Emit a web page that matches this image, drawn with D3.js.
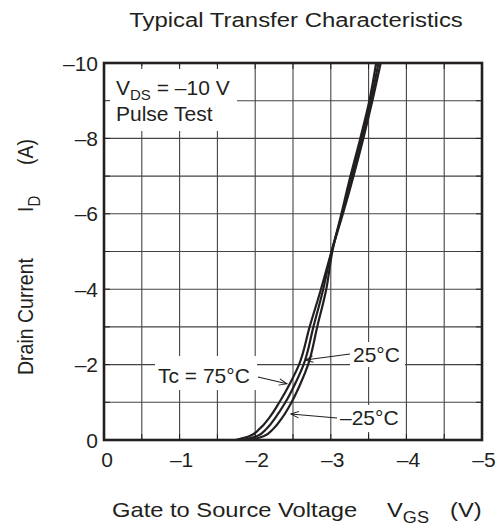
<!DOCTYPE html>
<html>
<head>
<meta charset="utf-8">
<script src="https://cdn.jsdelivr.net/npm/d3@7"></script>
<style>
  body { margin: 0; background: #fff; }
  svg text { font-family: "Liberation Sans", Arial, sans-serif; fill: #231f20; }
</style>
</head>
<body>
<div id="chart"></div>
<script>
//Data
var currentA = [0, -0.1, -0.3, -0.6, -1, -1.5, -2, -3, -4, -5, -6, -7, -8, -9, -10];
var vgs75 = [-1.74, -1.92, -2.06, -2.19, -2.32, -2.46, -2.58, -2.72, -2.87, -3.01, -3.16, -3.30, -3.43, -3.55, -3.66];
var vgs25 = [-1.84, -2.02, -2.15, -2.27, -2.40, -2.53, -2.64, -2.77, -2.90, -3.01, -3.15, -3.28, -3.41, -3.53, -3.63];
var vgsM25 = [-1.94, -2.11, -2.24, -2.36, -2.48, -2.60, -2.70, -2.82, -2.94, -3.02, -3.14, -3.26, -3.39, -3.51, -3.60];
var xTicks = [0, -1, -2, -3, -4, -5];
var yTicks = [0, -2, -4, -6, -8, -10];
var xGrid = d3.range(0, -5.01, -0.5);
var yGrid = d3.range(0, -10.01, -1);

//Global Variable
var margin = { top: 63, right: 22, bottom: 86, left: 104 },
    width = 504 - margin.left - margin.right,
    height = 526 - margin.top - margin.bottom;
var ink = "#231f20";

var svg = d3.select("#chart").append("svg")
    .attr("width", 504)
    .attr("height", 526);

var defs = svg.append("defs");
defs.append("marker")
    .attr("id", "arrow")
    .attr("viewBox", "0 0 10 10")
    .attr("refX", 10).attr("refY", 5)
    .attr("markerWidth", 10).attr("markerHeight", 8)
    .attr("markerUnits", "userSpaceOnUse")
    .attr("orient", "auto")
    .append("path")
    .attr("d", "M0,1 L10,5 L0,9")
    .attr("fill", "none")
    .attr("stroke", ink)
    .attr("stroke-width", 1.2);

var g = svg.append("g")
    .attr("transform", "translate(" + margin.left + "," + margin.top + ")");

var x = d3.scaleLinear().domain([0, -5]).range([0, width]);
var y = d3.scaleLinear().domain([0, -10]).range([height, 0]);

//Grid
g.selectAll(".vgrid").data(xGrid).enter().append("line")
    .attr("x1", function (d) { return x(d); }).attr("x2", function (d) { return x(d); })
    .attr("y1", 0).attr("y2", height)
    .attr("stroke", "#444").attr("stroke-width", 1.1);
g.selectAll(".hgrid").data(yGrid).enter().append("line")
    .attr("x1", 0).attr("x2", width)
    .attr("y1", function (d) { return y(d); }).attr("y2", function (d) { return y(d); })
    .attr("stroke", "#444").attr("stroke-width", 1.1);

//Curves
var line = d3.line()
    .x(function (d) { return x(d[0]); })
    .y(function (d) { return y(d[1]); })
    .curve(d3.curveMonotoneY);

[vgs75, vgs25, vgsM25].forEach(function (s) {
    g.append("path")
        .datum(s.map(function (v, i) { return [v, currentA[i]]; }))
        .attr("fill", "none")
        .attr("stroke", ink)
        .attr("stroke-width", 2.2)
        .attr("d", line);
});

//Label boxes
function whiteBox(x0, y0, w, h) {
    g.append("rect").attr("x", x0).attr("y", y0).attr("width", w).attr("height", h).attr("fill", "#fff");
}
whiteBox(1, 3, 132, 65);
whiteBox(51, 293, 102, 34);
whiteBox(246, 279, 55, 25);
whiteBox(234, 342, 67, 27);

//Inner ticks on frame
xGrid.forEach(function (d) {
    g.append("line").attr("x1", x(d)).attr("x2", x(d)).attr("y1", 0).attr("y2", 6).attr("stroke", ink);
    g.append("line").attr("x1", x(d)).attr("x2", x(d)).attr("y1", height).attr("y2", height - 6).attr("stroke", ink);
});
yGrid.forEach(function (d) {
    g.append("line").attr("x1", 0).attr("x2", 6).attr("y1", y(d)).attr("y2", y(d)).attr("stroke", ink);
    g.append("line").attr("x1", width).attr("x2", width - 6).attr("y1", y(d)).attr("y2", y(d)).attr("stroke", ink);
});

//Frame
g.append("rect")
    .attr("x", 0).attr("y", 0).attr("width", width).attr("height", height)
    .attr("fill", "none").attr("stroke", ink).attr("stroke-width", 2.6);

//Tick labels
g.selectAll(".xlab").data(xTicks).enter().append("text")
    .attr("x", function (d) { return x(d) + (d === 0 ? 3 : 2); })
    .attr("y", height + 27)
    .attr("text-anchor", "middle")
    .style("font-size", "21px")
    .text(function (d) { return d === 0 ? "0" : "\u2013" + Math.abs(d); });
g.selectAll(".ylab").data(yTicks).enter().append("text")
    .attr("x", -6)
    .attr("y", function (d) { return y(d) + 7.5; })
    .attr("text-anchor", "end")
    .style("font-size", "21px")
    .text(function (d) { return d === 0 ? "0" : "\u2013" + Math.abs(d); });

//Title
svg.append("text")
    .attr("transform", "translate(296,27) scale(1.14,1)")
    .attr("text-anchor", "middle")
    .style("font-size", "21px")
    .text("Typical Transfer Characteristics");

//X axis title
var xt = svg.append("g").attr("transform", "translate(0,517)");
xt.append("text").attr("transform", "translate(112,0) scale(1.13,1)")
    .style("font-size", "21px").text("Gate to Source Voltage");
var xv = xt.append("text").attr("transform", "translate(387,0) scale(1.13,1)")
    .style("font-size", "21px");
xv.append("tspan").text("V");
xv.append("tspan").attr("dy", 6).style("font-size", "16px").text("GS");
xt.append("text").attr("transform", "translate(450,0) scale(1.13,1)")
    .style("font-size", "21px").text("(V)");

//Y axis title
var yt = svg.append("g").attr("transform", "translate(33,0) scale(1.15,1)");
yt.append("text").attr("transform", "translate(0,375) rotate(-90)")
    .style("font-size", "19.5px").text("Drain Current");
var yi = yt.append("text").attr("transform", "translate(0,212) rotate(-90)")
    .style("font-size", "19.5px");
yi.append("tspan").text("I");
yi.append("tspan").attr("dy", 6).style("font-size", "15px").text("D");
yt.append("text").attr("transform", "translate(0,165) rotate(-90)")
    .style("font-size", "19.5px").text("(A)");

//Condition label
var t1 = g.append("text").attr("x", 12).attr("y", 32).style("font-size", "21px");
t1.append("tspan").text("V");
t1.append("tspan").attr("dy", 5).style("font-size", "15px").text("DS");
t1.append("tspan").attr("dy", -5).text(" = \u201310 V");
g.append("text").attr("x", 12).attr("y", 58).style("font-size", "21px").text("Pulse Test");

//Curve labels with leaders
var notes = [
    { text: "Tc = 75\u00b0C", tx: 54, ty: 320, lx: 154, ly: 314, v: -2.42, i: -1.49 },
    { text: "25\u00b0C", tx: 249, ty: 299, lx: 246, ly: 291, v: -2.66, i: -2.12 },
    { text: "\u201325\u00b0C", tx: 236, ty: 362, lx: 233, ly: 355, v: -2.47, i: -0.69 }
];
notes.forEach(function (n) {
    g.append("text").attr("x", n.tx).attr("y", n.ty)
        .style("font-size", "21px").text(n.text);
    g.append("line")
        .attr("x1", n.lx).attr("y1", n.ly)
        .attr("x2", x(n.v)).attr("y2", y(n.i))
        .attr("stroke", ink).attr("stroke-width", 1.1)
        .attr("marker-end", "url(#arrow)");
});
</script>
</body>
</html>
